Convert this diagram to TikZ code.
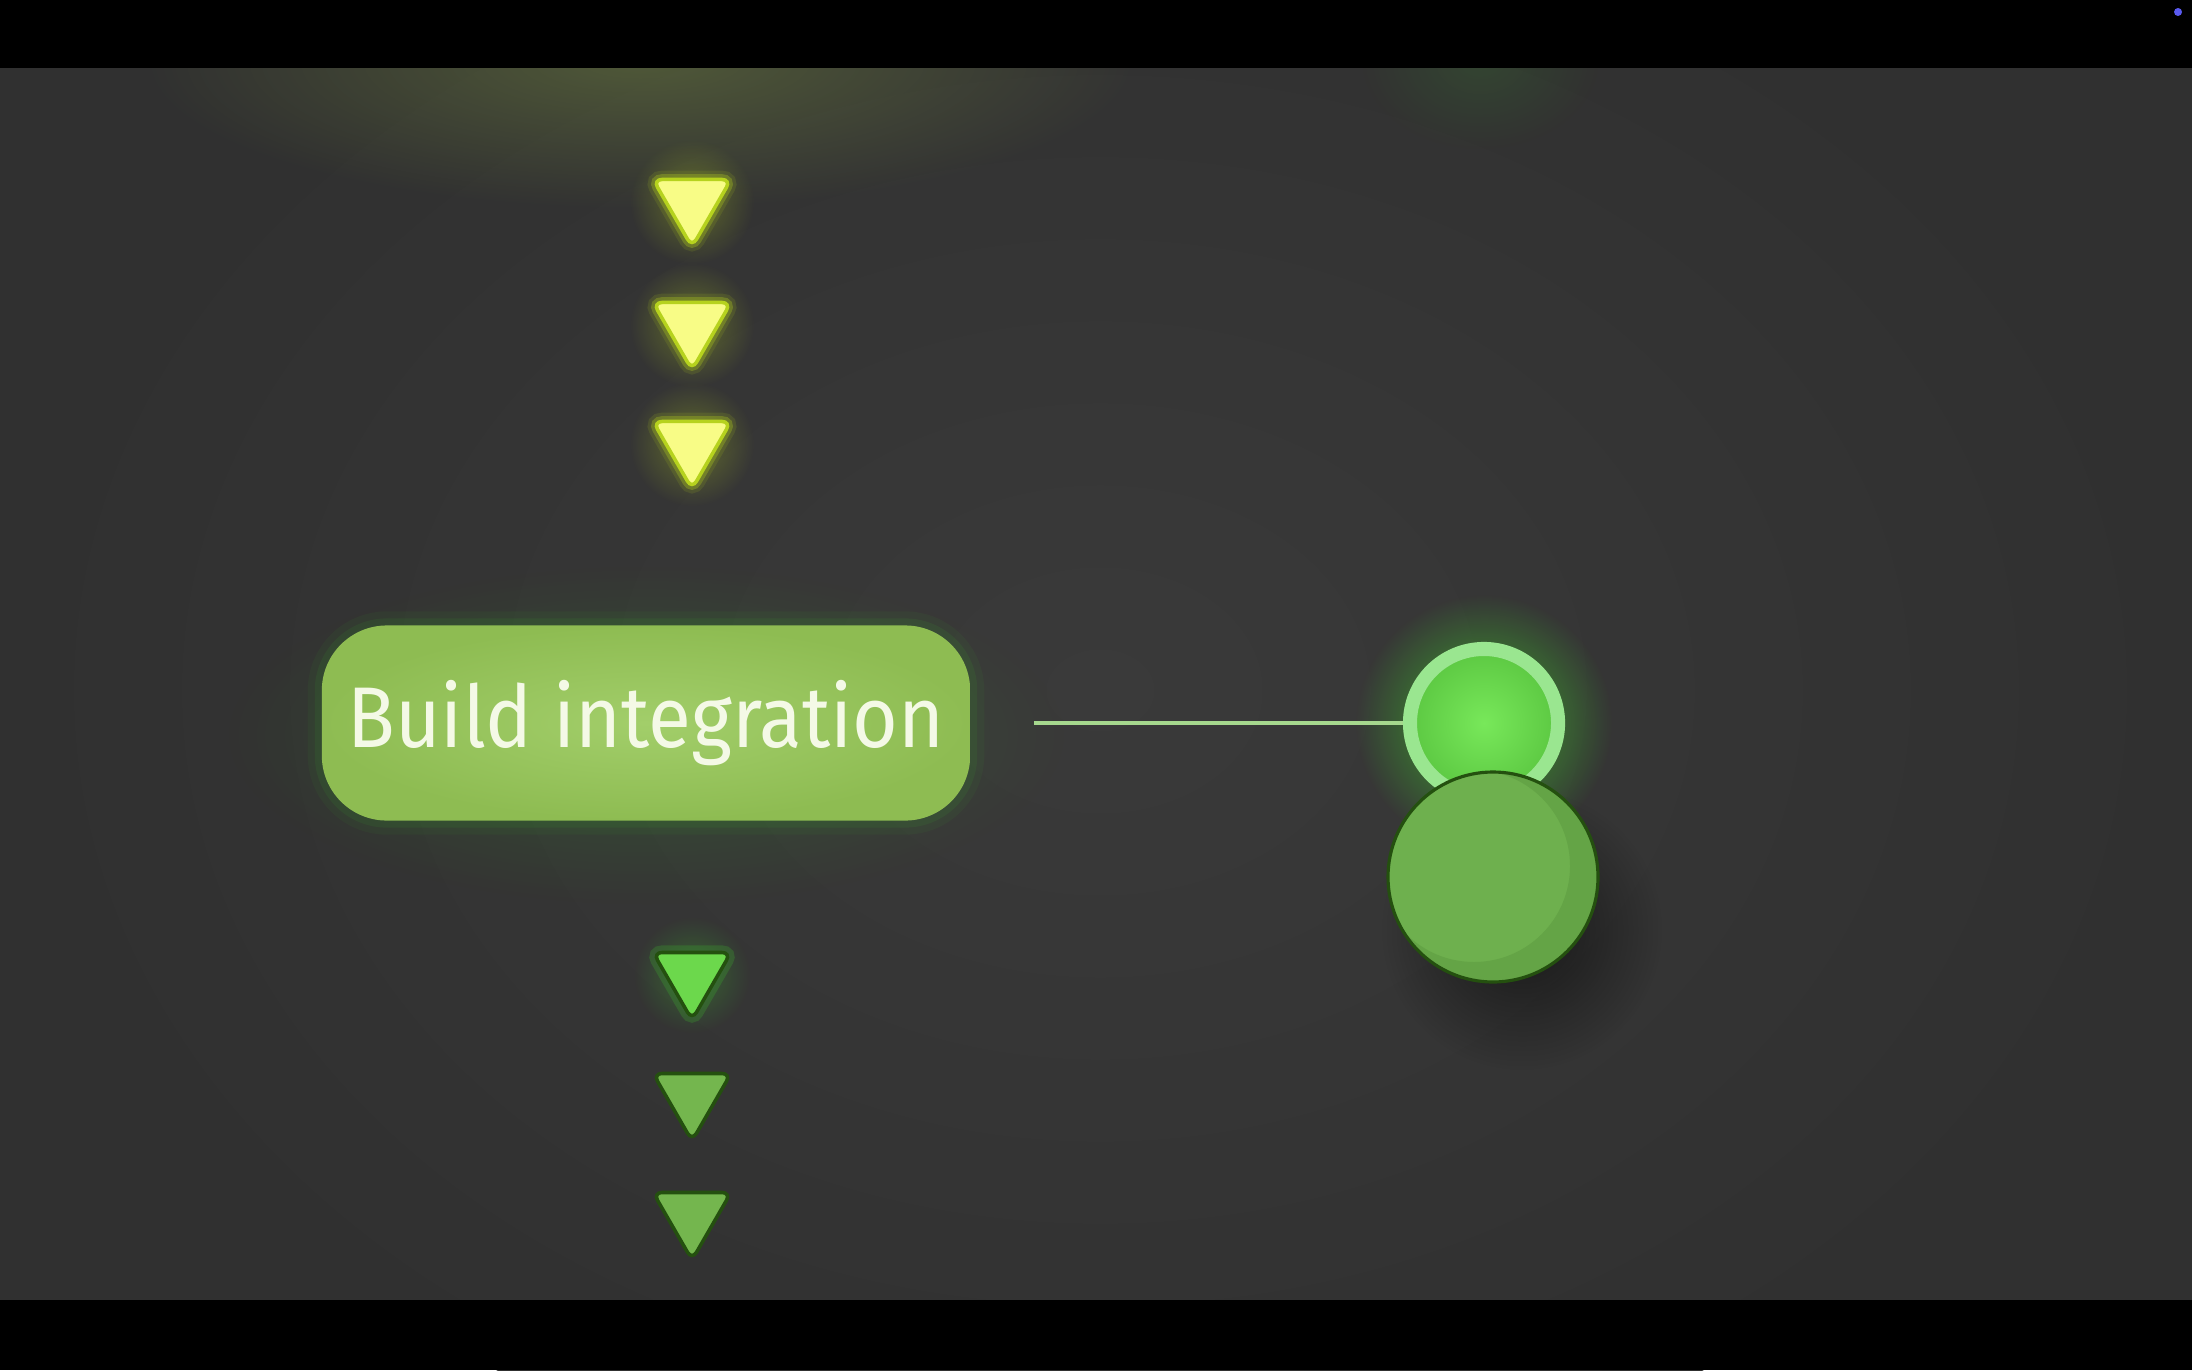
\documentclass[tikz,border=0pt]{standalone}
\usepackage{fontspec}
\newfontfamily\buildfont[FakeStretch=0.91]{Fira Sans}
\usetikzlibrary{shapes.geometric,fadings}
\definecolor{bgdark}{HTML}{303030}
\definecolor{bglight}{HTML}{3A3A3A}
\definecolor{haze}{HTML}{6E8040}
\definecolor{yellowfill}{HTML}{F8FC86}
\definecolor{yellowedge}{HTML}{B6D21E}
\definecolor{limefill}{HTML}{6CD84C}
\definecolor{leaffill}{HTML}{74B64E}
\definecolor{leafedge}{HTML}{24500F}
\definecolor{btninner}{HTML}{A2CE6A}
\definecolor{btnouter}{HTML}{8EBC52}
\definecolor{btntext}{HTML}{F4F9E6}
\definecolor{wirecol}{HTML}{A6D88E}
\definecolor{ringcol}{HTML}{9AE690}
\definecolor{signalin}{HTML}{78E85A}
\definecolor{signalout}{HTML}{5CC842}
\definecolor{knobfill}{HTML}{6EB04E}
\definecolor{knobdark}{HTML}{64A446}
\definecolor{glowgreen}{HTML}{3FD02A}
\definecolor{dotblue}{HTML}{5A5AF0}
\tikzfading[name=glowfade,inner color=transparent!0,outer color=transparent!100]

\begin{document}
\begin{tikzpicture}[x=0.01cm,y=-0.01cm]
\tikzstyle{tri}=[regular polygon,regular polygon sides=3,shape border rotate=180,minimum size=9mm,inner sep=0,rounded corners=0.9mm,line width=1pt]
\tikzstyle{yellowtri}=[tri,fill=yellowfill,draw=yellowedge,preaction={draw=yellowedge,line width=5pt,opacity=0.12},preaction={draw=yellowedge,line width=3pt,opacity=0.3}]
\tikzstyle{limetri}=[tri,fill=limefill,draw=leafedge,preaction={draw=glowgreen,line width=4pt,opacity=0.2}]
\tikzstyle{leaftri}=[tri,fill=leaffill,draw=leafedge]
\tikzstyle{glow}=[path fading=glowfade]
\tikzstyle{btn}=[rectangle,rounded corners=6.5mm,minimum width=64.8mm,minimum height=19.5mm,inner color=btninner,outer color=btnouter,text=btntext,font=\buildfont\fontsize{24.5}{28}\selectfont,preaction={draw=glowgreen,line width=8pt,opacity=0.05},preaction={draw=glowgreen,line width=4pt,opacity=0.08}]
\tikzstyle{wire}=[draw=wirecol,line width=1.2pt]
\tikzstyle{ring}=[circle,minimum size=14.8mm,inner sep=0,inner color=signalin,outer color=signalout,draw=ringcol,line width=4pt]
\tikzstyle{knob}=[circle,minimum size=21mm,inner sep=0,fill=knobfill]
\useasboundingbox (0,0) rectangle (2192,1370);
% background
\fill[bgdark] (0,68) rectangle (2192,1300);
\shade[inner color=bglight,outer color=bgdark] (1100,690) ellipse (1080 and 820);
\begin{scope}
\clip (0,68) rectangle (2192,1300);
\fill[haze,glow,opacity=0.5] (640,60) ellipse (500 and 150);
\fill[glowgreen,glow,opacity=0.12] (1480,60) ellipse (120 and 90);
\end{scope}
\fill[black] (0,0) rectangle (2192,68);
\fill[black] (0,1300) rectangle (2192,1370);
\fill[dotblue] (2178,12) circle (4);
% arrows down
\foreach \y in {202,325,444}
  \fill[yellowedge,glow,opacity=0.35] (692,\y) circle (62);
\node[yellowtri] (up1) at (692,202) {};
\node[yellowtri] (up2) at (692,325) {};
\node[yellowtri] (up3) at (692,444) {};
\fill[glowgreen,glow,opacity=0.3] (692,975) circle (58);
\node[limetri] (down1) at (692,975) {};
\node[leaftri] (down2) at (692,1096) {};
\node[leaftri] (down3) at (692,1215) {};
% step and switch
\fill[glowgreen,glow,opacity=0.18] (646,735) ellipse (420 and 170);
\node[btn] (build) at (646,723) {Build integration};
\fill[glowgreen,glow,opacity=0.75] (1484,723) circle (128);
\node[ring] (signal) at (1484,723) {};
\draw[wire,shorten <=6.3mm] (build) -- (signal);
\fill[black,glow,opacity=0.55] (1522,930) circle (140);
\node[knob] (knob) at (1493,877) {};
\begin{scope}
\clip (knob.center) circle (105);
\fill[knobdark,even odd rule] (knob.center) circle (105) (1474,866) circle (96);
\end{scope}
\draw[leafedge,line width=0.9pt] (knob.center) circle (105);
\end{tikzpicture}
\end{document}
